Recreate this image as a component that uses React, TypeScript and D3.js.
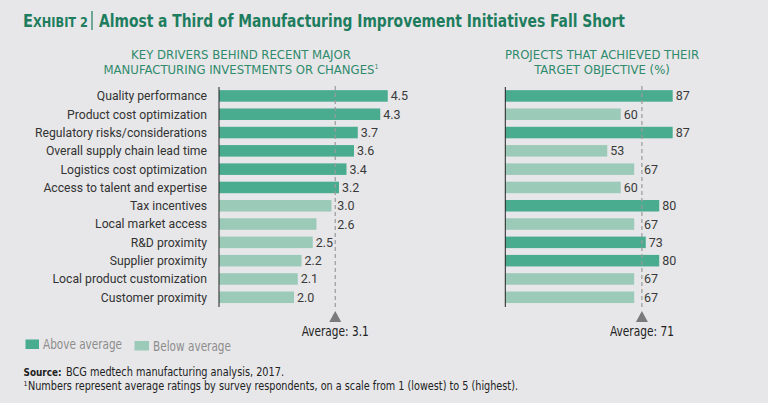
import * as d3 from "d3";
import * as React from "react";

const categories = [
  "Quality performance",
  "Product cost optimization",
  "Regulatory risks/considerations",
  "Overall supply chain lead time",
  "Logistics cost optimization",
  "Access to talent and expertise",
  "Tax incentives",
  "Local market access",
  "R&D proximity",
  "Supplier proximity",
  "Local product customization",
  "Customer proximity",
];
const ratings = [4.5, 4.3, 3.7, 3.6, 3.4, 3.2, 3.0, 2.6, 2.5, 2.2, 2.1, 2.0];
const ratingAvg = 3.1;
const achieved = [87, 60, 87, 53, 67, 60, 80, 67, 73, 80, 67, 67];
const achievedAvg = 71;

const DARK = "#4aac8f";
const LIGHT = "#9ccab9";
const GREEN_TEXT = "#1e7d5e";
const SUB_TEXT = "#2f8a6c";
const FONT = "Roboto, 'Noto Sans', sans-serif";
const NARROW = "'Liberation Sans Narrow', 'DejaVu Sans Condensed', Roboto, sans-serif";

const W = 768;
const H = 403;

const y = d3
  .scaleBand<string>()
  .domain(categories)
  .range([86.5, 306.7])
  .paddingInner(0.37)
  .paddingOuter(0.2);

const xLeft = d3.scaleLinear().domain([0, 5]).range([219, 406.5]);
const xRight = d3.scaleLinear().domain([0, 100]).range([505.3, 697.7]);

interface PanelProps {
  values: number[];
  avg: number;
  x: d3.ScaleLinear<number, number>;
  fmt: (v: number) => string;
  avgWidth: number;
}

const Panel: React.FC<PanelProps> = ({ values, avg, x, fmt, avgWidth }) => {
  const x0 = x(0);
  const ax = x(avg);
  return (
    <g>
      {values.map((v, i) => {
        const cat = categories[i];
        const end = x(v);
        const label = fmt(v);
        const w = label.length * 6.3;
        let lx = end + 3;
        // push the label past the average line when it would sit on it
        if (end < ax && lx + w > ax + 2) lx = ax + 2;
        return (
          <g key={cat}>
            <rect
              x={x0}
              y={y(cat)!}
              width={end - x0}
              height={y.bandwidth()}
              fill={v > avg ? DARK : LIGHT}
            />
            <text
              x={lx}
              y={y(cat)! + y.bandwidth() / 2}
              dy="0.36em"
              fontSize={12.5}
              fill="#3a3a3a"
            >
              {label}
            </text>
          </g>
        );
      })}
      <line x1={ax} x2={ax} y1={86} y2={309} stroke="#9a9a9a" strokeWidth={1.2} strokeDasharray="4,3" />
      <line x1={x0} x2={x0} y1={87} y2={307} stroke="#222" strokeWidth={1} />
      <path d={`M${ax - 6},322 L${ax + 6},322 L${ax},311 Z`} fill="#7a7a7a" />
      <text
        x={ax - avgWidth / 2}
        y={335.5}
        fontSize={13.5}
        fill="#222"
        fontFamily={NARROW}
        textLength={avgWidth}
        lengthAdjust="spacingAndGlyphs"
      >
        {`Average: ${fmt(avg)}`}
      </text>
    </g>
  );
};

export default function App() {
  return (
    <svg
      width={W}
      height={H}
      style={{ position: "absolute", left: 0, top: 0, display: "block" }}
      fontFamily={FONT}
    >
      <rect width={W} height={H} fill="#e7e7e9" />

      {/* title */}
      <text
        x={23}
        y={27}
        fill={GREEN_TEXT}
        fontWeight="bold"
        fontFamily={NARROW}
        textLength={65}
        lengthAdjust="spacingAndGlyphs"
      >
        <tspan fontSize={18}>E</tspan>
        <tspan fontSize={14}>XHIBIT 2</tspan>
      </text>
      <line x1={92} x2={92} y1={11} y2={30} stroke={GREEN_TEXT} strokeWidth={1.2} />
      <text
        x={99}
        y={27}
        fill={GREEN_TEXT}
        fontWeight="bold"
        fontSize={18}
        fontFamily={NARROW}
        textLength={526}
        lengthAdjust="spacingAndGlyphs"
      >
        Almost a Third of Manufacturing Improvement Initiatives Fall Short
      </text>

      {/* panel headers */}
      <g fill={SUB_TEXT} fontSize={13} fontFamily={NARROW} textAnchor="middle">
        <text x={241} y={59}>KEY DRIVERS BEHIND RECENT MAJOR</text>
        <text x={241} y={74}>
          MANUFACTURING INVESTMENTS OR CHANGES
          <tspan fontSize={7} dy={-5}>1</tspan>
        </text>
        <text x={602} y={59}>PROJECTS THAT ACHIEVED THEIR</text>
        <text x={602} y={74}>TARGET OBJECTIVE (%)</text>
      </g>

      {/* category labels */}
      {categories.map((c) => (
        <text
          key={c}
          x={207}
          y={y(c)! + y.bandwidth() / 2}
          dy="0.36em"
          textAnchor="end"
          fontSize={12.2}
          fill="#333"
        >
          {c}
        </text>
      ))}

      <Panel values={ratings} avg={ratingAvg} x={xLeft} fmt={d3.format(".1f")} avgWidth={67} />
      <Panel values={achieved} avg={achievedAvg} x={xRight} fmt={d3.format("d")} avgWidth={64} />

      {/* legend */}
      <rect x={25.5} y={339.5} width={13.5} height={9.5} fill={DARK} />
      <text x={43} y={348.5} fontSize={13.5} fill="#8d8d8d" fontFamily={NARROW} textLength={79} lengthAdjust="spacingAndGlyphs">
        Above average
      </text>
      <rect x={134.5} y={341} width={14.5} height={9.5} fill={LIGHT} />
      <text x={153} y={350.5} fontSize={13.5} fill="#8d8d8d" fontFamily={NARROW} textLength={78} lengthAdjust="spacingAndGlyphs">
        Below average
      </text>

      {/* source and note */}
      <text x={23.5} y={376} fontSize={11} fontWeight="bold" fill="#222" fontFamily={NARROW} textLength={38} lengthAdjust="spacingAndGlyphs">
        Source:
      </text>
      <text x={66} y={376} fontSize={12} fill="#222" fontFamily={NARROW} textLength={218} lengthAdjust="spacingAndGlyphs">
        BCG medtech manufacturing analysis, 2017.
      </text>
      <text x={23.5} y={386} fontSize={7} fill="#222" fontFamily={NARROW}>
        1
      </text>
      <text x={28} y={390} fontSize={12} fill="#222" fontFamily={NARROW} textLength={490} lengthAdjust="spacingAndGlyphs">
        Numbers represent average ratings by survey respondents, on a scale from 1 (lowest) to 5 (highest).
      </text>
    </svg>
  );
}
